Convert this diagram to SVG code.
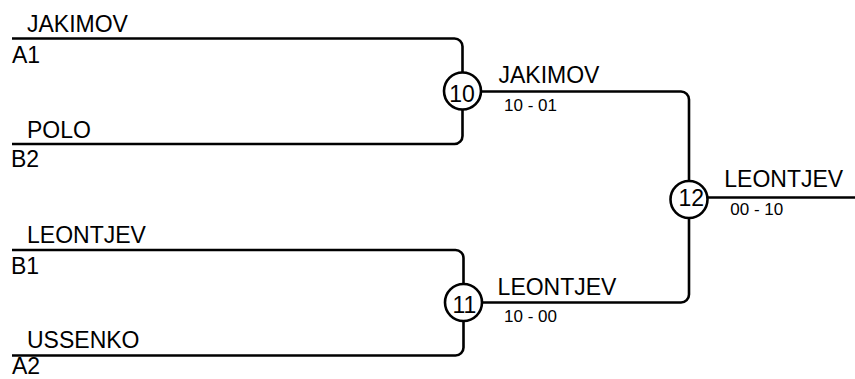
<svg xmlns="http://www.w3.org/2000/svg" width="855" height="379" viewBox="0 0 855 379">
<style>
.ln{fill:none;stroke:#000;stroke-width:2.6}
.cir{fill:#fff;stroke:#000;stroke-width:2.6}
.big{font-family:"Liberation Sans",Arial,sans-serif;font-size:23px;fill:#000}
.sm{font-family:"Liberation Sans",Arial,sans-serif;font-size:17px;fill:#000}
</style>
<rect width="855" height="379" fill="#fff"/>
<g id="connectors">
<path class="ln" d="M12,38.5 H454.5 A8,8 0 0 1 462.5,46.5 V136 A8,8 0 0 1 454.5,144 H12"/>
<path class="ln" d="M12,250 H455.5 A8,8 0 0 1 463.5,258 V347.5 A8,8 0 0 1 455.5,355.5 H12"/>
<path class="ln" d="M462.5,91.5 H681 A8,8 0 0 1 689,99.5 V294.5 A8,8 0 0 1 681,302.5 H463.5"/>
<path class="ln" d="M689,197.5 H855"/>
</g>
<g id="entry-a1">
<text class="big" x="27" y="31.7">JAKIMOV</text>
<text class="big" x="12" y="62.5">A1</text>
</g>
<g id="entry-b2">
<text class="big" x="27" y="137.5">POLO</text>
<text class="big" x="11" y="167">B2</text>
</g>
<g id="entry-b1">
<text class="big" x="27" y="243.3">LEONTJEV</text>
<text class="big" x="11" y="273.5">B1</text>
</g>
<g id="entry-a2">
<text class="big" x="27" y="348">USSENKO</text>
<text class="big" x="12" y="374">A2</text>
</g>
<g id="match-10">
<circle class="cir" cx="462.5" cy="91" r="18.5"/>
<text class="big" x="449.2" y="101.7">10</text>
<text class="big" x="498.5" y="83.3">JAKIMOV</text>
<text class="sm" x="504" y="111">10 - 01</text>
</g>
<g id="match-11">
<circle class="cir" cx="463.5" cy="302.5" r="18.5"/>
<text class="big" x="452.5" y="313.3">11</text>
<text class="big" x="497.6" y="295">LEONTJEV</text>
<text class="sm" x="504" y="321.7">10 - 00</text>
</g>
<g id="match-12">
<circle class="cir" cx="689" cy="199.5" r="18.5"/>
<text class="big" x="678.5" y="206">12</text>
<text class="big" x="724.3" y="186.7">LEONTJEV</text>
<text class="sm" x="730.3" y="215">00 - 10</text>
</g>
</svg>
